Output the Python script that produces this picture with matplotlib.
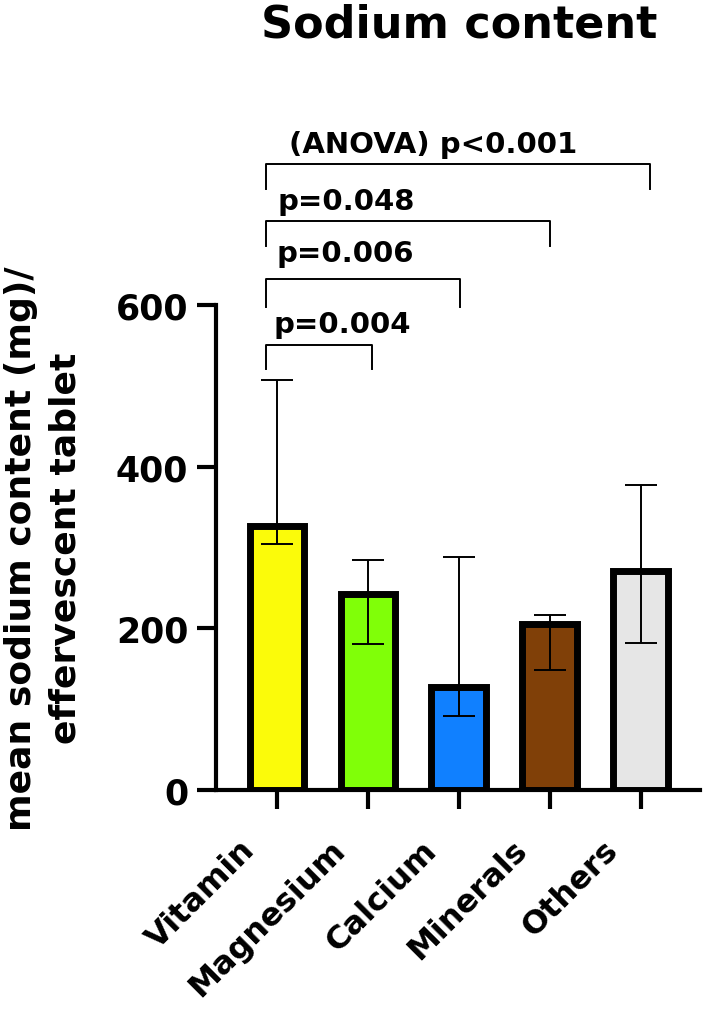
import matplotlib
matplotlib.use("Agg")
import matplotlib.pyplot as plt
import matplotlib.transforms as mtransforms
import numpy as np

plt.rcParams['font.family'] = ['DejaVu Sans']
plt.rcParams['font.weight'] = 'bold'

# data
groups = ["Vitamin", "Magnesium", "Calcium", "Minerals", "Others"]
means = [327, 243, 127, 205, 271]
err_low = [304, 180, 92, 148, 182]
err_high = [507, 284, 288, 217, 377]
colors = ["#FBFB0A", "#80FF08", "#1080FF", "#804008", "#E6E6E6"]

# significance brackets: (left x, right x, bar y, leg bottom y, label)
brackets = [
    (-0.12, 1.05, 551, 521, "p=0.004"),
    (-0.12, 2.01, 632, 597, "p=0.006"),
    (-0.12, 3.00, 704, 673, "p=0.048"),
    (-0.12, 4.10, 774, 743, "(ANOVA) p<0.001"),
]
label_pos = [(-0.04, 567), (-0.01, 654), (0.00, 719), (0.13, 789)]

fig = plt.figure(figsize=(7.04, 10.12), dpi=100)
ax = fig.add_axes([0.307, 0.2184, 0.688, 0.4792])

x = np.arange(len(groups))
m = np.array(means)
yerr = [m - np.array(err_low), np.array(err_high) - m]

ax.bar(x, means, width=0.6, color=colors, edgecolor="black", linewidth=5, zorder=2)
ax.errorbar(x, means, yerr=yerr, fmt="none", ecolor="black", elinewidth=1.4,
            capsize=11.5, capthick=1.4, zorder=3)

for (x0, x1, yb, yl, txt), (tx, ty) in zip(brackets, label_pos):
    ax.plot([x0, x0, x1, x1], [yl, yb, yb, yl], color="black", lw=1.4,
            clip_on=False, zorder=4)
    ax.text(tx, ty, txt, fontsize=21, fontweight="bold", ha="left",
            va="baseline")

ax.set_xlim(-0.67, 4.66)
ax.set_ylim(0, 600)
ax.set_yticks([0, 200, 400, 600])
ax.set_xticks(x)
ax.set_xticklabels([])
# category labels sit a bit left of and below their ticks
shift = mtransforms.ScaledTranslation(-0.27, -0.55, fig.dpi_scale_trans)
for xi, g in zip(x, groups):
    ax.text(xi, 0, g, transform=ax.get_xaxis_transform() + shift,
            rotation=45, ha="right", va="center", rotation_mode="anchor",
            fontsize=23, fontweight="bold", clip_on=False)
for lab in ax.get_yticklabels():
    lab.set_fontsize(25)
    lab.set_fontweight("bold")

for s in ["top", "right"]:
    ax.spines[s].set_visible(False)
for s in ["left", "bottom"]:
    ax.spines[s].set_linewidth(3)
ax.tick_params(axis="both", length=14, width=3, pad=6)

ax.set_ylabel("mean sodium content (mg)/\neffervescent tablet", fontsize=26,
              fontweight="bold", labelpad=24, linespacing=1.4)
fig.text(0.652, 0.9634, "Sodium content", fontsize=32, fontweight="bold",
         ha="center", va="baseline")

fig.savefig("out.png", dpi=100)
